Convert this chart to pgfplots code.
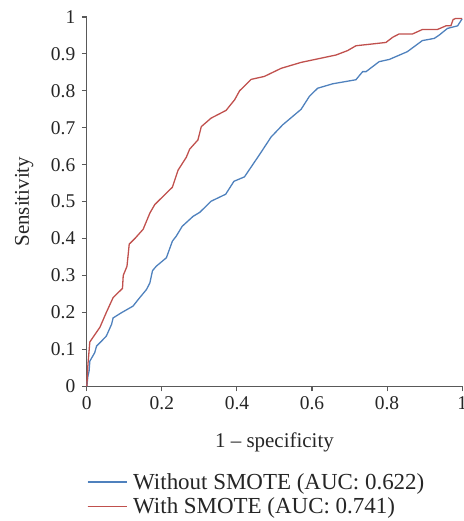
\documentclass[border=0pt]{standalone}
\usepackage{fontspec}
\setmainfont{Liberation Serif}
\usepackage{pgfplots}
\pgfplotsset{compat=1.18}
\usetikzlibrary{calc}
\definecolor{cblue}{HTML}{4F81BD}
\definecolor{cred}{HTML}{C0504D}
\definecolor{axgray}{HTML}{595959}
\begin{document}
\begin{tikzpicture}
\begin{axis}[
  name=ax,
  scale only axis,
  width=376pt, height=370pt,
  xmin=0, xmax=1, ymin=0, ymax=1,
  axis x line*=bottom, axis y line*=left,
  axis line style={-, axgray, line width=1.1pt},
  tick style={axgray, line width=1.1pt},
  tick align=outside,
  major tick length=5pt,
  xtick={0,0.2,0.4,0.6,0.8,1},
  ytick={0,0.1,0.2,0.3,0.4,0.5,0.6,0.7,0.8,0.9,1},
  /pgf/number format/assume math mode=true,
  /pgf/number format/fixed,
  tick label style={font=\fontsize{19.5}{22}\selectfont, text=black!85},
  yticklabel style={xshift=-3pt},
  xticklabel style={yshift=-2pt},
  xlabel={1 -- specificity},
  ylabel={Sensitivity},
  label style={font=\fontsize{21}{24}\selectfont, text=black!85},
  xlabel style={at={(axis description cs:0.5,-0.165)}, anchor=base},
  ylabel style={at={(axis description cs:-0.167,0.5)}, anchor=center},
  legend style={at={(axis description cs:0,-0.23)}, anchor=north west, draw=none,
    font=\fontsize{23}{26}\selectfont, text=black!85, inner xsep=0pt, inner ysep=0pt,
    row sep=3pt, nodes={inner xsep=6pt, inner ysep=2pt}},
  legend cell align=left,
  legend image code/.code={\draw[#1, line width=1.1pt] (-6pt,0pt) -- (29pt,0pt);
    \path (-6pt,0pt) -- (33pt,0pt);},
  clip=false,
]
\addplot[cblue, line width=1.3pt] coordinates {
(0,0) (0.003,0.028) (0.006,0.041) (0.008,0.068) (0.021,0.091) (0.026,0.109)
(0.039,0.122) (0.052,0.136) (0.066,0.168) (0.070,0.185) (0.092,0.199)
(0.123,0.217) (0.141,0.240) (0.159,0.262) (0.168,0.280) (0.175,0.313)
(0.185,0.325) (0.212,0.348) (0.228,0.393) (0.238,0.406) (0.254,0.433)
(0.283,0.460) (0.301,0.471) (0.331,0.501) (0.370,0.520) (0.392,0.555)
(0.420,0.567) (0.460,0.627) (0.491,0.675) (0.522,0.708) (0.571,0.750)
(0.593,0.785) (0.615,0.807) (0.655,0.819) (0.717,0.830) (0.735,0.852)
(0.744,0.852) (0.779,0.879) (0.806,0.885) (0.854,0.906) (0.894,0.936)
(0.926,0.942) (0.939,0.951) (0.961,0.969) (0.988,0.976) (1,0.995)
};
\addlegendentry{Without SMOTE (AUC: 0.622)}
\addplot[cred, line width=1.3pt] coordinates {
(0,0) (0.003,0.060) (0.008,0.120) (0.035,0.160) (0.052,0.200) (0.070,0.240)
(0.095,0.265) (0.097,0.300) (0.107,0.325) (0.113,0.385) (0.128,0.400)
(0.150,0.425) (0.168,0.469) (0.181,0.492) (0.228,0.539) (0.243,0.585)
(0.265,0.620) (0.274,0.642) (0.296,0.667) (0.305,0.703) (0.331,0.726)
(0.371,0.747) (0.394,0.776) (0.407,0.800) (0.438,0.831) (0.473,0.839)
(0.518,0.861) (0.571,0.877) (0.664,0.897) (0.695,0.909) (0.717,0.922)
(0.797,0.931) (0.815,0.945) (0.832,0.954) (0.868,0.954) (0.894,0.966)
(0.934,0.966) (0.957,0.976) (0.970,0.976) (0.976,0.993) (0.983,0.996) (1,0.996)
};
\addlegendentry{With SMOTE (AUC: 0.741)}
\end{axis}
\pgfresetboundingbox
\useasboundingbox ($(ax.south west)+(-87pt,-135pt)$) rectangle ($(ax.north east)+(1pt,17pt)$);
\end{tikzpicture}
\end{document}
